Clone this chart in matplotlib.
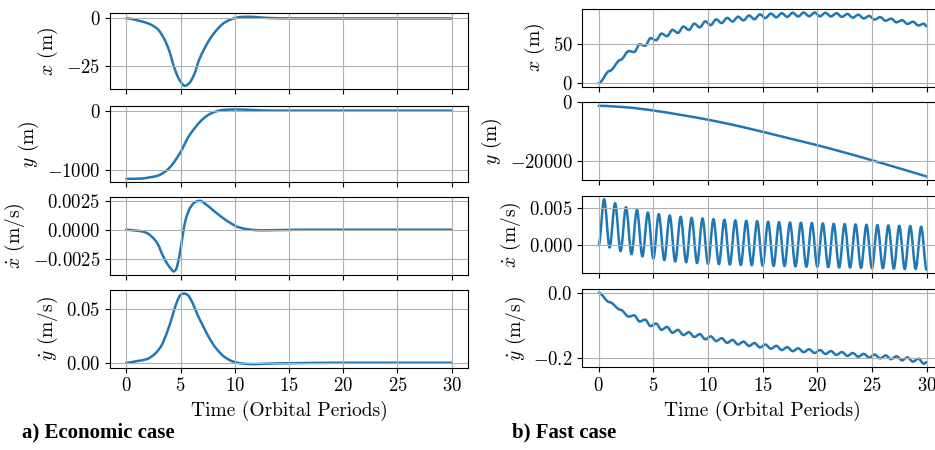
import numpy as np
import matplotlib
matplotlib.use("Agg")
import matplotlib.pyplot as plt
from matplotlib.path import Path
from matplotlib.patches import PathPatch

plt.rcParams["font.family"] = "serif"
plt.rcParams["font.serif"] = ["cmr10"]
plt.rcParams["mathtext.fontset"] = "cm"
plt.rcParams["axes.formatter.use_mathtext"] = True
plt.rcParams["font.size"] = 13.5
plt.rcParams["axes.labelsize"] = 14

# ---- economic case ----
econ_x_t = [0, 1.3, 2.2, 2.9, 3.5, 3.95, 4.4, 4.9, 5.4, 5.8, 6.3, 6.7, 7.2, 7.8, 8.4, 9.0, 9.8,
            10.6, 11.5, 12.4, 14, 17, 20, 25, 30]
econ_x = [0, -1.4, -3.1, -5.7, -10.9, -17, -25.7, -32.6, -35.8, -34.4, -29.2, -22.2, -16.1, -10.1,
          -5.7, -2.4, -0.2, 0.8, 0.9, 0.5, 0.1, 0, 0, 0, 0]

econ_y_t = [0, 1.3, 2.2, 2.9, 3.5, 4.1, 4.7, 5.2, 5.65, 6.3, 6.9, 7.5, 8.1, 9.0, 10.0, 11.2, 12.4,
            14, 17, 20, 25, 30]
econ_y = [-1149, -1145, -1123, -1095, -1039, -939, -788, -631, -464, -296, -168, -78, -22, 14, 21,
          16, 6, 1, 0, 0, 0, 0]

econ_xd_t = [0, 0.7, 1.3, 1.9, 2.4, 2.9, 3.3, 3.8, 4.15, 4.35, 4.6, 4.75, 4.9, 5.2, 5.5, 5.95, 6.4,
             6.8, 7.35, 8.1, 8.9, 9.7, 10.4, 11.5, 12.4, 14, 17, 20, 25, 30]
econ_xd = [0, -0.00006, -0.00012, -0.00029, -0.00064, -0.00122, -0.00209, -0.00297, -0.0034,
           -0.0036, -0.0034, -0.0029, -0.00224, -0.00049, 0.00096, 0.00198, 0.00241, 0.00249,
           0.00218, 0.0016, 0.00102, 0.00052, 0.0002, 0.0, -0.00005, -0.00003, 0, 0, 0, 0]

econ_yd_t = [0, 1.0, 1.9, 2.55, 3.2, 3.8, 4.25, 4.7, 5.0, 5.35, 5.65, 6.1, 6.55, 7.05, 7.65, 8.25,
             9.0, 9.8, 10.6, 11.8, 12.7, 15, 20, 25, 30]
econ_yd = [0, 0.0016, 0.0034, 0.0075, 0.0153, 0.0294, 0.0434, 0.0575, 0.0631, 0.0644, 0.0631,
           0.0559, 0.045, 0.0347, 0.0231, 0.0138, 0.0059, 0.0013, -0.0006, -0.0013, -0.0009,
           -0.0004, 0, 0, 0]

# ---- fast case ----
# x: plateaus at t=0,1,2 then local max at k-0.25 / local min at k+0.25
fast_x_t = [0, 1, 2] + [k + s for k in range(3, 30) for s in (-0.25, 0.25)] + [29.75, 30]
fast_x = [0, 15.8, 29.9,
          41.2, 40.0, 50.0, 48.0, 57.9, 55.1, 63.7, 60.3, 68.5, 64.5, 72.7, 68.3, 76.4, 71.6,
          79.4, 74.6, 81.9, 77.1, 83.9, 79.1, 85.4, 80.6, 86.9, 82.1, 88.4, 83.6, 89.4, 84.6,
          89.9, 85.1, 90.4, 85.6, 90.7, 85.9, 90.7, 85.9, 90.4, 85.6, 89.9, 85.1, 88.9, 84.1,
          87.9, 83.1, 86.4, 81.6, 84.9, 80.1, 82.9, 78.1, 80.9, 76.1, 78.9, 74.1,
          76.4, 73.0]

fast_y_t = [0, 2.5, 5, 7.5, 10, 12.5, 15, 17.5, 20, 22.5, 25, 27.5, 30]
fast_y = [-1200, -1700, -2800, -4300, -5950, -7900, -10100, -12400, -14700, -17200, -19850,
          -22600, -25400]

# xdot: peaks at k+0.5, troughs at k
fast_xd_peaks = [0.0062, 0.00567, 0.00513, 0.00478, 0.00442, 0.0042, 0.00402, 0.00384, 0.0037,
                 0.00362, 0.00353, 0.00344, 0.00335, 0.0033, 0.00326, 0.00317, 0.00312, 0.00308,
                 0.00304, 0.003, 0.00295, 0.0029, 0.00286, 0.00281, 0.00277, 0.00272, 0.00268,
                 0.00263, 0.00259, 0.0025]
fast_xd_troughs = [-0.0003, -0.0008, -0.0012, -0.0015, -0.0018, -0.0020, -0.0022, -0.0023,
                   -0.0024, -0.0025, -0.00255, -0.0026, -0.00265, -0.0027, -0.00275, -0.0028,
                   -0.0028, -0.00285, -0.0029, -0.0029, -0.00295, -0.003, -0.003, -0.00305,
                   -0.0031, -0.0031, -0.00315, -0.0032, -0.0032, -0.0033]

# ydot: plateaus at t=0,1,2 then local min at k-0.25 / local max at k+0.25
fast_yd_t = [0, 1, 2] + [k + s for k in range(3, 30) for s in (-0.25, 0.25)] + [29.75, 30]
fast_yd = [0, -0.0287, -0.052,
           -0.073, -0.069, -0.088, -0.082, -0.102, -0.094, -0.1135, -0.1045, -0.1225, -0.1135,
           -0.1295, -0.1205, -0.1355, -0.1265, -0.1425, -0.1335, -0.148, -0.139, -0.1535, -0.1445,
           -0.1585, -0.1495, -0.163, -0.154, -0.1675, -0.1585, -0.1715, -0.1625, -0.1755, -0.1665,
           -0.179, -0.170, -0.182, -0.173, -0.1845, -0.1755, -0.1875, -0.1785, -0.1905, -0.1815,
           -0.1935, -0.1845, -0.196, -0.187, -0.1985, -0.1895, -0.201, -0.192, -0.2035, -0.1945,
           -0.207, -0.198, -0.211, -0.202,
           -0.2175, -0.2125]

fast_xd_t = [0.0]
fast_xd = [0.0]
for i in range(30):
    fast_xd_t += [i + 0.5, i + 1.0]
    fast_xd += [fast_xd_peaks[i], fast_xd_troughs[i]]

ylabels = [r"$x$ (m)", r"$y$ (m)", r"$\dot{x}$ (m/s)", r"$\dot{y}$ (m/s)"]
left_ticks = [[0, -25], [0, -1000], [-0.0025, 0, 0.0025], [0.0, 0.05]]
right_ticks = [[0, 50], [0, -20000], [0.0, 0.005], [0.0, -0.2]]

BLUE = "#1f77b4"


def smooth_line(ax, t, v, flat=False):
    # draws a smooth curve through the points as cubic bezier segments
    t = np.asarray(t, float)
    v = np.asarray(v, float)
    h = np.diff(t)
    d = np.diff(v) / h
    m = np.zeros_like(v)
    if not flat:
        for i in range(1, len(v) - 1):
            if d[i - 1] * d[i] > 0:
                w1 = 2 * h[i] + h[i - 1]
                w2 = h[i] + 2 * h[i - 1]
                m[i] = (w1 + w2) / (w1 / d[i - 1] + w2 / d[i])
        m[-1] = d[-1]
    verts = [(t[0], v[0])]
    codes = [Path.MOVETO]
    for i in range(len(h)):
        verts += [(t[i] + h[i] / 3, v[i] + m[i] * h[i] / 3),
                  (t[i + 1] - h[i] / 3, v[i + 1] - m[i + 1] * h[i] / 3),
                  (t[i + 1], v[i + 1])]
        codes += [Path.CURVE4] * 3
    ax.add_patch(PathPatch(Path(verts, codes), fill=False, edgecolor=BLUE,
                           linewidth=1.8, capstyle="round", joinstyle="round"))
    ax.autoscale_view()


fig = plt.figure(figsize=(9.35, 4.5), dpi=100)
W, H = 935.0, 450.0

left_rows = [(13.3, 89.3), (106, 182.3), (197.3, 275), (290, 367.7)]
right_rows = [(9, 86.7), (102.3, 180), (195.7, 273.3), (289.3, 367.3)]


def make_column(x0, width, rows):
    axes = []
    for top, bot in rows:
        ax = fig.add_axes([x0 / W, 1 - bot / H, width / W, (bot - top) / H],
                          sharex=axes[0] if axes else None)
        axes.append(ax)
    return axes


left = make_column(110, 358, left_rows)
right = make_column(582.3, 360.7, right_rows)

left_data = [(econ_x_t, econ_x, False), (econ_y_t, econ_y, False),
             (econ_xd_t, econ_xd, False), (econ_yd_t, econ_yd, False)]
right_data = [(fast_x_t, fast_x, True), (fast_y_t, fast_y, False),
              (fast_xd_t, fast_xd, True), (fast_yd_t, fast_yd, True)]

for axes, data, ticks in [(left, left_data, left_ticks), (right, right_data, right_ticks)]:
    for i, ax in enumerate(axes):
        t, v, flat = data[i]
        smooth_line(ax, t, v, flat)
        ax.set_xlim(-1.5, 31.5)
        ax.set_xticks([0, 5, 10, 15, 20, 25, 30])
        ax.set_yticks(ticks[i])
        ax.grid(True)
        ax.set_ylabel(ylabels[i])
        if i < 3:
            ax.tick_params(labelbottom=False)
        else:
            ax.set_xlabel("Time (Orbital Periods)")

fig.text(22 / W, 1 - 437 / H, "a) Economic case", family="Liberation Serif",
         fontweight="bold", fontsize=15, ha="left", va="baseline")
fig.text(512 / W, 1 - 437 / H, "b) Fast case", family="Liberation Serif",
         fontweight="bold", fontsize=15, ha="left", va="baseline")

fig.savefig("out.png", dpi=100)
